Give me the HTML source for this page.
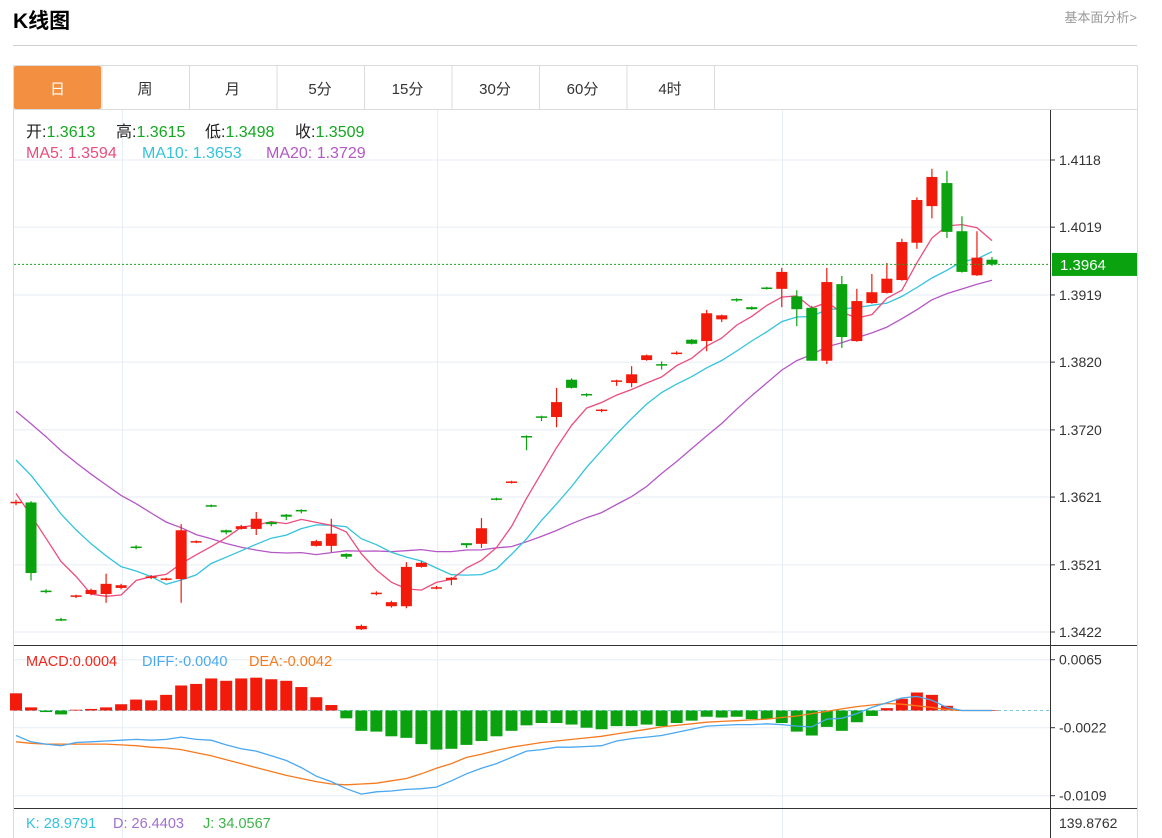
<!DOCTYPE html>
<html><head><meta charset="utf-8">
<style>
body{margin:0;background:#fff;width:1162px;height:838px;overflow:hidden;font-family:"Liberation Sans","Noto Sans CJK SC",sans-serif;}
svg{position:absolute;left:0;top:0}
text{font-family:"Liberation Sans","Noto Sans CJK SC",sans-serif}
</style></head>
<body>
<svg id="chart" width="1162" height="838" xmlns="http://www.w3.org/2000/svg">
<text x="13" y="28" font-size="21" font-weight="bold" fill="#000">K线图</text>
<text x="1137" y="22" font-size="13" fill="#999" text-anchor="end">基本面分析&gt;</text>
<line x1="13" y1="45.5" x2="1137" y2="45.5" stroke="#d0d0d0"/>
<rect x="13.5" y="65.5" width="1124" height="780" fill="none" stroke="#dcdcdc"/>
<g id="tabs"></g>
<line x1="14" y1="109.5" x2="1137" y2="109.5" stroke="#dcdcdc"/>
<g id="grid"></g>
<g id="plot"></g>
<g id="axes"></g>
<text y="137" font-size="16"><tspan x="26" fill="#222">开:</tspan><tspan fill="#13a81f">1.3613</tspan><tspan x="116" fill="#222">高:</tspan><tspan fill="#13a81f">1.3615</tspan><tspan x="205" fill="#222">低:</tspan><tspan fill="#13a81f">1.3498</tspan><tspan x="295" fill="#222">收:</tspan><tspan fill="#13a81f">1.3509</tspan></text>
<text y="158" font-size="16"><tspan x="26" fill="#ec4d7c">MA5: 1.3594</tspan><tspan x="142" fill="#33c3dd">MA10: 1.3653</tspan><tspan x="266" fill="#b557c6">MA20: 1.3729</tspan></text>
<text y="666" font-size="14.5"><tspan x="26" fill="#f0261a">MACD:0.0004</tspan><tspan x="142" fill="#4aa8f0">DIFF:-0.0040</tspan><tspan x="249" fill="#f57a1e">DEA:-0.0042</tspan></text>
<text y="828" font-size="14.5"><tspan x="26" fill="#33c3dd">K: 28.9791</tspan><tspan x="113" fill="#a070d0">D: 26.4403</tspan><tspan x="203" fill="#3cb34a">J: 34.0567</tspan></text>
</svg>
<script>
const opens=[1.3612,1.3613,1.3483,1.3441,1.3474,1.3478,1.3478,1.3487,1.3548,1.3502,1.3499,1.3500,1.3554,1.3609,1.3572,1.3574,1.3574,1.3584,1.3595,1.3602,1.3549,1.3549,1.3537,1.3426,1.3478,1.3460,1.3460,1.3518,1.3486,1.3499,1.3553,1.3552,1.3619,1.3642,1.3711,1.3740,1.3739,1.3794,1.3773,1.3748,1.3791,1.3789,1.3823,1.3817,1.3832,1.3853,1.3851,1.3883,1.3913,1.3901,1.3930,1.3928,1.3917,1.3900,1.3822,1.3935,1.3851,1.3907,1.3922,1.3941,1.3996,1.4050,1.4084,1.4013,1.3948,1.3971];
const highs=[1.3617,1.3615,1.3485,1.3443,1.3477,1.3486,1.3508,1.3493,1.3550,1.3506,1.3502,1.3581,1.3557,1.3610,1.3573,1.3580,1.3599,1.3585,1.3596,1.3603,1.3558,1.3589,1.3538,1.3433,1.3482,1.3468,1.3525,1.3526,1.3490,1.3503,1.3553,1.3590,1.3620,1.3645,1.3712,1.3741,1.3782,1.3796,1.3774,1.3751,1.3794,1.3814,1.3831,1.3821,1.3836,1.3854,1.3897,1.3890,1.3914,1.3902,1.3931,1.3959,1.3926,1.3903,1.3959,1.3947,1.3928,1.3950,1.3966,1.4002,1.4063,1.4105,1.4102,1.4035,1.4013,1.3975];
const lows=[1.3609,1.3498,1.3479,1.3438,1.3472,1.3476,1.3465,1.3485,1.3544,1.3500,1.3498,1.3465,1.3553,1.3606,1.3566,1.3573,1.3565,1.3578,1.3587,1.3597,1.3548,1.3540,1.3530,1.3425,1.3476,1.3458,1.3457,1.3517,1.3485,1.3491,1.3546,1.3546,1.3616,1.3641,1.3690,1.3733,1.3724,1.3781,1.3769,1.3746,1.3785,1.3783,1.3822,1.3809,1.3831,1.3846,1.3836,1.3879,1.3909,1.3897,1.3927,1.3901,1.3873,1.3822,1.3817,1.3841,1.3850,1.3906,1.3921,1.3940,1.3987,1.4032,1.4003,1.3952,1.3947,1.3962];
const closes=[1.3614,1.3509,1.3481,1.3439,1.3476,1.3484,1.3493,1.3491,1.3546,1.3504,1.3501,1.3572,1.3556,1.3607,1.3569,1.3578,1.3589,1.3581,1.3592,1.3600,1.3556,1.3567,1.3533,1.3431,1.3480,1.3466,1.3518,1.3524,1.3488,1.3502,1.3550,1.3575,1.3617,1.3644,1.3709,1.3738,1.3761,1.3782,1.3771,1.3750,1.3793,1.3802,1.3830,1.3815,1.3834,1.3847,1.3892,1.3889,1.3911,1.3898,1.3928,1.3953,1.3898,1.3822,1.3938,1.3857,1.3910,1.3923,1.3943,1.3997,1.4059,1.4093,1.4012,1.3953,1.3974,1.3964];
const priorCloses=[1.3880,1.3860,1.3850,1.3835,1.3820,1.3810,1.3800,1.3790,1.3780,1.3770,1.3735,1.3760,1.3730,1.3710,1.3690,1.3670,1.3650,1.3610,1.3587];
const macdBars=[0.0022,0.0004,-0.0002,-0.0005,0.0001,0.0002,0.0004,0.0008,0.0014,0.0013,0.0020,0.0032,0.0034,0.0041,0.0038,0.0041,0.0042,0.0040,0.0038,0.0030,0.0017,0.0007,-0.0010,-0.0026,-0.0027,-0.0033,-0.0035,-0.0043,-0.0050,-0.0049,-0.0044,-0.0039,-0.0033,-0.0026,-0.0019,-0.0016,-0.0016,-0.0018,-0.0022,-0.0024,-0.0020,-0.0020,-0.0018,-0.0020,-0.0016,-0.0013,-0.0008,-0.0009,-0.0008,-0.0011,-0.0011,-0.0016,-0.0027,-0.0032,-0.0021,-0.0026,-0.0015,-0.0007,0.0003,0.0015,0.0023,0.0020,0.0006,0.0000,0.0000,0.0000];
const diffVals=[-0.0032,-0.0040,-0.0043,-0.0045,-0.0041,-0.0040,-0.0039,-0.0038,-0.0037,-0.0038,-0.0037,-0.0034,-0.0037,-0.0038,-0.0044,-0.0049,-0.0052,-0.0058,-0.0064,-0.0073,-0.0084,-0.0091,-0.0100,-0.0107,-0.0104,-0.0103,-0.0101,-0.0100,-0.0098,-0.0090,-0.0081,-0.0074,-0.0068,-0.0060,-0.0052,-0.0050,-0.0047,-0.0047,-0.0046,-0.0045,-0.0039,-0.0036,-0.0034,-0.0032,-0.0028,-0.0024,-0.0020,-0.0019,-0.0018,-0.0018,-0.0017,-0.0018,-0.0020,-0.0021,-0.0011,-0.0010,-0.0004,0.0004,0.0010,0.0016,0.0018,0.0013,0.0004,0.0000,0.0000,0.0000];
const deaVals=[-0.0040,-0.0042,-0.0043,-0.0043,-0.0043,-0.0043,-0.0043,-0.0044,-0.0045,-0.0047,-0.0048,-0.0050,-0.0054,-0.0058,-0.0063,-0.0068,-0.0073,-0.0078,-0.0083,-0.0087,-0.0091,-0.0094,-0.0095,-0.0094,-0.0093,-0.0090,-0.0087,-0.0081,-0.0074,-0.0068,-0.0060,-0.0056,-0.0051,-0.0047,-0.0044,-0.0041,-0.0039,-0.0037,-0.0035,-0.0033,-0.0030,-0.0027,-0.0024,-0.0021,-0.0019,-0.0017,-0.0015,-0.0014,-0.0013,-0.0012,-0.0011,-0.0009,-0.0007,-0.0004,-0.0001,0.0002,0.0005,0.0007,0.0009,0.0008,0.0006,0.0004,0.0001,0.0000,0.0000,0.0000];
const priceTicks=[1.4118,1.4019,1.3919,1.3820,1.3720,1.3621,1.3521,1.3422];
const macdTicks=[0.0065,-0.0022,-0.0109];
const tabLabels=["日","周","月","5分","15分","30分","60分","4时"];
const lastPrice=1.3964;

const NS="http://www.w3.org/2000/svg";
function mk(parent,tag,attrs,txt){const e=document.createElementNS(NS,tag);for(const k in attrs)e.setAttribute(k,attrs[k]);if(txt!==undefined)e.textContent=txt;parent.appendChild(e);return e;}
const xOf=i=>16+i*15.015;
const yP=p=>160+(1.4118-p)/(1.4118-1.3422)*472;
const yM=v=>710.5-v*7816;
const RED="#f21a0b",GREEN="#0aa30f";

const tabs=document.getElementById('tabs');
tabLabels.forEach((t,i)=>{
  const x0=14+i*87.5;
  if(i===0){const r=mk(tabs,'rect',{x:x0,y:66,width:87,height:43,fill:"#f38f41",rx:2});
    
    }
  else{const l=mk(tabs,'line',{x1:x0+0.5,y1:66,x2:x0+0.5,y2:109,stroke:"#dcdcdc"});
    
    }
  const tx=mk(tabs,'text',{x:x0+43.5,y:94,"font-size":15,"text-anchor":"middle",fill:i===0?"#fff":"#333"},t);
  
  
});
const sepEnd=mk(tabs,'line',{x1:714.5,y1:66,x2:714.5,y2:109,stroke:"#dcdcdc"});



const grid=document.getElementById('grid');
priceTicks.forEach(p=>{const l=mk(grid,'line',{x1:14,y1:yP(p),x2:1050,y2:yP(p),stroke:"#e6edf5"});
  
  });
macdTicks.forEach(v=>{const l=mk(grid,'line',{x1:14,y1:yM(v),x2:1050,y2:yM(v),stroke:"#e6edf5"});
  
  });
[122.5,437.5,782.5].forEach(x=>{const l=mk(grid,'line',{x1:x,y1:110,x2:x,y2:838,stroke:"#e6edf5"});
  
  });

const plot=document.getElementById('plot');
const all=priorCloses.concat(closes);
function ma(n){return closes.map((c,i)=>{const j=i+priorCloses.length;let s=0;for(let k=j-n+1;k<=j;k++)s+=all[k];return s/n;});}
[[20,"#b557c6","ma20-line"],[10,"#33c3dd","ma10-line"],[5,"#ec4d7c","ma5-line"]].forEach(([n,col,name])=>{
  const m=ma(n);const pl=mk(plot,'polyline',{points:m.map((v,i)=>xOf(i).toFixed(1)+","+yP(v).toFixed(1)).join(" "),fill:"none",stroke:col,"stroke-width":1.3});
  
  
});
closes.forEach((c,i)=>{
  const o=opens[i],up=c>=o,col=up?RED:GREEN,x=xOf(i);
  const g=mk(plot,'g',{});
  
  
  mk(g,'line',{x1:x,y1:yP(highs[i]),x2:x,y2:yP(lows[i]),stroke:col,"stroke-width":1.2});
  const t=Math.min(yP(o),yP(c)),h=Math.max(Math.abs(yP(o)-yP(c)),1.5);
  mk(g,'rect',{x:x-5.5,y:t,width:11,height:h,fill:col});
});
const lp=mk(plot,'line',{x1:14,y1:yP(lastPrice),x2:1050,y2:yP(lastPrice),stroke:"#1aa51f","stroke-dasharray":"2,2"});


const zl=mk(plot,'line',{x1:14,y1:yM(0),x2:1050,y2:yM(0),stroke:"#7fc4e0","stroke-dasharray":"3,3"});


macdBars.forEach((v,i)=>{
  const y0=yM(0),y1=yM(v);
  const r=mk(plot,'rect',{x:xOf(i)-6,y:Math.min(y0,y1),width:12,height:Math.max(Math.abs(y1-y0),0.5),fill:v>=0?RED:GREEN});
  
  
});
[[deaVals,"#f57a1e","dea-line"],[diffVals,"#4aa8f0","diff-line"]].forEach(([arr,col,name])=>{
  const pl=mk(plot,'polyline',{points:arr.map((v,i)=>xOf(i).toFixed(1)+","+yM(v).toFixed(1)).join(" "),fill:"none",stroke:col,"stroke-width":1.3});
  
  
});

const axes=document.getElementById('axes');
const ax=mk(axes,'line',{x1:1050.5,y1:110,x2:1050.5,y2:838,stroke:"#333"});


[645.5,808.5].forEach(y=>{const l=mk(axes,'line',{x1:14,y1:y,x2:1137,y2:y,stroke:"#333"});
  
  });
priceTicks.forEach(p=>{const y=yP(p);
  mk(axes,'line',{x1:1050,y1:y,x2:1055,y2:y,stroke:"#333"});
  const t=mk(axes,'text',{x:1059,y:y+5,"font-size":14,fill:"#333"},p.toFixed(4));
  
  });
macdTicks.forEach(v=>{const y=yM(v);
  mk(axes,'line',{x1:1050,y1:y,x2:1055,y2:y,stroke:"#333"});
  const t=mk(axes,'text',{x:1059,y:y+5,"font-size":14,fill:"#333"},v.toFixed(4));
  
  });
const kt=mk(axes,'text',{x:1059,y:828,"font-size":14,fill:"#333"},"139.8762");


const box=mk(axes,'rect',{x:1052,y:yP(lastPrice)-11.5,width:85,height:23,fill:"#0aa30f"});


const bt=mk(axes,'text',{x:1060,y:yP(lastPrice)+5.5,"font-size":15,fill:"#fff"},lastPrice.toFixed(4));


</script>
</body></html>
